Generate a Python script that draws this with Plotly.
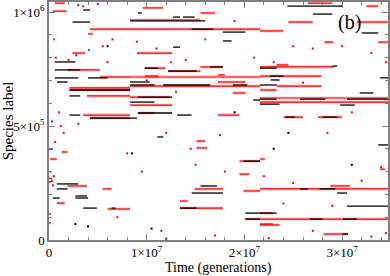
import plotly.graph_objects as go

# ---- data: horizontal streaks (species label, start time, end time) ----
black_label = [1009e3, 956e3, 833e3, 781e3, 746e3, 711e3, 711e3, 693e3, 658e3, 632e3,
               548e3, 535e3, 996e3, 978e3, 978e3, 961e3, 925e3, 912e3, 873e3, 1026e3,
               991e3, 908e3, 846e3, 759e3, 754e3, 741e3, 693e3, 680e3, 680e3, 680e3,
               680e3, 754e3, 763e3, 719e3, 702e3, 645e3, 618e3, 618e3, 618e3, 596e3,
               592e3, 711e3, 539e3, 539e3, 627e3, 605e3, 614e3, 557e3, 548e3, 452e3,
               399e3, 246e3, 224e3, 193e3, 184e3, 184e3, 140e3, 140e3, 346e3, 237e3,
               206e3, 140e3, 118e3, 92e3, 417e3, 224e3, 224e3, 206e3, 149e3, 118e3,
               92e3, 92e3, 26e3, 300e3, 255e3]
black_start = [0.35e7, 0.24e7, 0.40e7, 0.06e7, 0.06e7, 0.06e7, 0.40e7, 0.08e7, 0.21e7, 0.21e7,
               0.21e7, 0.42e7, 0.91e7, 1.27e7, 1.37e7, 0.83e7, 1.46e7, 1.78e7, 1.78e7, 2.44e7,
               2.70e7, 3.20e7, 1.27e7, 1.65e7, 0.98e7, 1.22e7, 0.83e7, 0.83e7, 1.17e7, 1.88e7,
               2.16e7, 2.16e7, 2.90e7, 2.26e7, 2.27e7, 3.18e7, 2.16e7, 2.57e7, 3.05e7, 2.16e7,
               2.98e7, 3.39e7, 2.42e7, 2.80e7, 0.91e7, 0.83e7, 2.09e7, 0.91e7, 1.31e7, 1.11e7,
               0.00e7, 0.08e7, 0.08e7, 0.27e7, 0.04e7, 0.27e7, 0.35e7, 0.64e7, 1.99e7, 1.55e7,
               1.46e7, 1.34e7, 2.01e7, 2.01e7, 3.37e7, 2.57e7, 2.77e7, 2.95e7, 3.05e7, 2.16e7,
               2.67e7, 3.01e7, 3.00e7, 0.00e7, 0.00e7]
black_end = [0.42e7, 0.42e7, 0.42e7, 0.27e7, 0.32e7, 0.30e7, 0.60e7, 0.19e7, 0.83e7, 0.32e7,
             0.32e7, 0.90e7, 0.95e7, 1.34e7, 1.49e7, 1.60e7, 1.68e7, 2.01e7, 1.87e7, 3.00e7,
             2.90e7, 3.37e7, 1.34e7, 1.78e7, 1.12e7, 1.51e7, 1.03e7, 1.08e7, 1.65e7, 2.03e7,
             2.33e7, 2.33e7, 2.95e7, 2.40e7, 2.36e7, 3.32e7, 2.33e7, 2.83e7, 3.47e7, 2.36e7,
             3.13e7, 3.47e7, 2.52e7, 2.95e7, 1.26e7, 1.08e7, 2.16e7, 1.26e7, 1.46e7, 1.17e7,
             0.04e7, 0.30e7, 0.19e7, 0.39e7, 0.11e7, 0.40e7, 0.49e7, 0.68e7, 2.16e7, 1.72e7,
             1.78e7, 1.51e7, 2.16e7, 2.16e7, 3.47e7, 2.65e7, 2.93e7, 3.05e7, 3.47e7, 2.33e7,
             2.80e7, 3.15e7, 3.06e7, 0.03e7, 0.02e7]

red_label = [1004e3, 1039e3, 925e3, 904e3, 820e3, 746e3, 715e3, 658e3, 667e3, 632e3,
             548e3, 535e3, 1018e3, 996e3, 965e3, 925e3, 917e3, 1039e3, 956e3, 956e3,
             868e3, 868e3, 820e3, 759e3, 754e3, 741e3, 724e3, 719e3, 715e3, 693e3,
             675e3, 759e3, 768e3, 719e3, 675e3, 658e3, 623e3, 605e3, 645e3, 627e3,
             592e3, 557e3, 548e3, 539e3, 539e3, 386e3, 355e3, 237e3, 224e3, 162e3,
             136e3, 434e3, 404e3, 346e3, 289e3, 224e3, 215e3, 171e3, 140e3, 92e3,
             66e3, 224e3, 237e3, 118e3, 92e3, 70e3, 26e3, 311e3, 355e3, 270e3,
             115e3, 75e3, 1026e3]
red_start = [0.04e7, 0.06e7, 0.42e7, 0.40e7, 0.24e7, 0.19e7, 0.52e7, 0.21e7, 0.21e7, 0.39e7,
             0.35e7, 0.42e7, 0.96e7, 1.55e7, 0.83e7, 0.83e7, 2.16e7, 2.65e7, 2.45e7, 3.15e7,
             3.37e7, 2.82e7, 0.90e7, 1.55e7, 0.98e7, 1.22e7, 1.73e7, 0.98e7, 0.83e7, 1.73e7,
             0.83e7, 2.16e7, 2.33e7, 2.16e7, 2.33e7, 2.16e7, 2.16e7, 2.16e7, 1.88e7, 0.83e7,
             0.83e7, 0.91e7, 1.73e7, 2.40e7, 2.75e7, 0.13e7, 0.01e7, 0.19e7, 0.55e7, 0.08e7,
             0.60e7, 1.51e7, 1.51e7, 1.95e7, 1.95e7, 1.49e7, 1.99e7, 1.34e7, 1.34e7, 2.01e7,
             2.16e7, 2.16e7, 2.88e7, 2.16e7, 2.16e7, 2.16e7, 2.81e7, 3.39e7, 2.16e7, 0.00e7,
             0.00e7, 0.00e7, 3.25e7]
red_end = [0.18e7, 0.16e7, 0.83e7, 0.45e7, 0.37e7, 0.52e7, 0.83e7, 0.83e7, 0.83e7, 0.83e7,
           0.83e7, 0.83e7, 1.17e7, 1.70e7, 1.55e7, 2.16e7, 2.40e7, 2.90e7, 2.70e7, 3.47e7,
           3.47e7, 2.91e7, 1.26e7, 1.78e7, 1.19e7, 1.55e7, 1.80e7, 1.12e7, 2.16e7, 2.01e7,
           2.16e7, 2.91e7, 2.45e7, 2.79e7, 2.79e7, 2.33e7, 3.47e7, 3.47e7, 2.01e7, 1.24e7,
           1.26e7, 1.08e7, 1.95e7, 2.60e7, 3.00e7, 0.19e7, 0.08e7, 0.39e7, 0.64e7, 0.16e7,
           0.83e7, 1.60e7, 1.62e7, 2.16e7, 2.05e7, 1.78e7, 2.16e7, 1.42e7, 1.78e7, 2.16e7,
           2.36e7, 3.47e7, 3.08e7, 2.29e7, 3.47e7, 2.29e7, 3.06e7, 3.44e7, 2.21e7, 0.03e7,
           0.02e7, 0.02e7, 3.37e7]

# isolated points
red_dot_t = [0.30e7, 0.35e7, 0.50e7, 0.55e7, 0.28e7, 0.20e7, 0.05e7, 0.07e7, 0.10e7, 0.03e7,
             0.15e7, 0.06e7, 0.12e7, 0.65e7, 0.90e7, 1.10e7, 1.25e7, 1.00e7, 1.40e7, 1.60e7,
             1.90e7, 2.10e7, 2.30e7, 2.50e7, 2.70e7, 3.00e7, 3.30e7, 3.45e7, 2.60e7, 1.20e7,
             1.45e7, 0.80e7, 0.95e7, 1.50e7, 1.80e7, 2.20e7, 2.50e7, 3.20e7, 3.40e7, 0.70e7,
             0.40e7, 1.15e7, 1.70e7, 2.25e7, 2.70e7, 3.30e7, 3.45e7, 2.90e7, 2.40e7, 0.05e7,
             0.03e7, 0.04e7, 0.30e7, 1.75e7, 2.85e7, 3.10e7, 1.30e7, 0.60e7]
red_dot_label = [1030e3, 1025e3, 1035e3, 850e3, 810e3, 790e3, 880e3, 800e3, 560e3, 520e3,
                 470e3, 430e3, 500e3, 880e3, 870e3, 840e3, 780e3, 700e3, 790e3, 880e3,
                 960e3, 800e3, 780e3, 850e3, 840e3, 850e3, 820e3, 780e3, 690e3, 470e3,
                 400e3, 380e3, 300e3, 330e3, 300e3, 280e3, 250e3, 260e3, 320e3, 100e3,
                 60e3, 40e3, 20e3, 8e3, 40e3, 15e3, 30e3, 150e3, 160e3, 280e3,
                 260e3, 240e3, 510e3, 460e3, 470e3, 560e3, 650e3, 780e3]
black_dot_t = [0.27e7, 0.40e7, 1.05e7, 0.85e7, 2.45e7, 1.90e7, 3.10e7, 2.30e7, 1.20e7, 0.60e7]
black_dot_label = [70e3, 60e3, 50e3, 380e3, 470e3, 560e3, 330e3, 400e3, 5e3, 850e3]

x_ticks = [0, 1e7, 2e7, 3e7]
x_ticktext = ["0", "1×10<sup>7</sup>", "2×10<sup>7</sup>", "3×10<sup>7</sup>"]
y_ticks = [0, 5e5, 1e6]
y_ticktext = ["0", "5×10<sup>5</sup>", "1×10<sup>6</sup>"]


def segs(labels, starts, ends):
    xs, ys = [], []
    for lab, a, b in zip(labels, starts, ends):
        xs += [a, b, None]
        ys += [lab, lab, None]
    return xs, ys


fig = go.Figure()
rx, ry = segs(red_label, red_start, red_end)
bx, by = segs(black_label, black_start, black_end)
fig.add_trace(go.Scatter(x=rx, y=ry, mode="lines", line=dict(color="rgba(255,0,0,0.22)", width=3),
                         hoverinfo="skip", showlegend=False))
fig.add_trace(go.Scatter(x=rx, y=ry, mode="lines", line=dict(color="#ff0000", width=1.2),
                         showlegend=False))
fig.add_trace(go.Scatter(x=bx, y=by, mode="lines", line=dict(color="#000000", width=1.3),
                         showlegend=False))
fig.add_trace(go.Scatter(x=red_dot_t, y=red_dot_label, mode="markers",
                         marker=dict(color="#ff0000", size=2, symbol="square", line=dict(width=0)),
                         showlegend=False))
fig.add_trace(go.Scatter(x=black_dot_t, y=black_dot_label, mode="markers",
                         marker=dict(color="#000000", size=2, symbol="square", line=dict(width=0)),
                         showlegend=False))

axis_common = dict(showline=True, linecolor="#7f7f7f", linewidth=1.5, mirror="allticks",
                   ticks="inside", ticklen=6, tickwidth=1.2, tickcolor="#7f7f7f",
                   showgrid=False, zeroline=False, automargin=False,
                   tickfont=dict(family="Liberation Serif", size=13, color="#000"))

fig.update_xaxes(range=[0, 3.47e7], tickvals=x_ticks, ticktext=x_ticktext,
                 minor=dict(dtick=2e6, ticks="inside", ticklen=3, tickcolor="#7f7f7f", showgrid=False),
                 **axis_common)
fig.update_yaxes(range=[0, 1.044e6], tickvals=y_ticks, ticktext=y_ticktext,
                 minor=dict(dtick=1e5, ticks="inside", ticklen=3, tickcolor="#7f7f7f", showgrid=False),
                 title=dict(text="Species label", standoff=0,
                            font=dict(family="Liberation Serif", size=15, color="#000")),
                 **axis_common)

# x-axis title placed at the bottom edge of the figure
fig.add_annotation(x=0.5, xref="paper", y=0, yref="paper", yshift=-37, yanchor="bottom",
                   text="Time (generations)", showarrow=False, borderpad=0,
                   font=dict(family="Liberation Serif", size=14, color="#000"))

fig.add_annotation(x=3.08e7, y=952e3, text="(b)", showarrow=False,
                   font=dict(family="Liberation Serif", size=20, color="#000"))

fig.update_layout(width=390, height=276, margin=dict(l=49, r=2, t=2, b=36),
                  plot_bgcolor="white", paper_bgcolor="white")

fig.write_html("out.html", config={"displayModeBar": False},
               post_script="document.body.style.margin='0';")
